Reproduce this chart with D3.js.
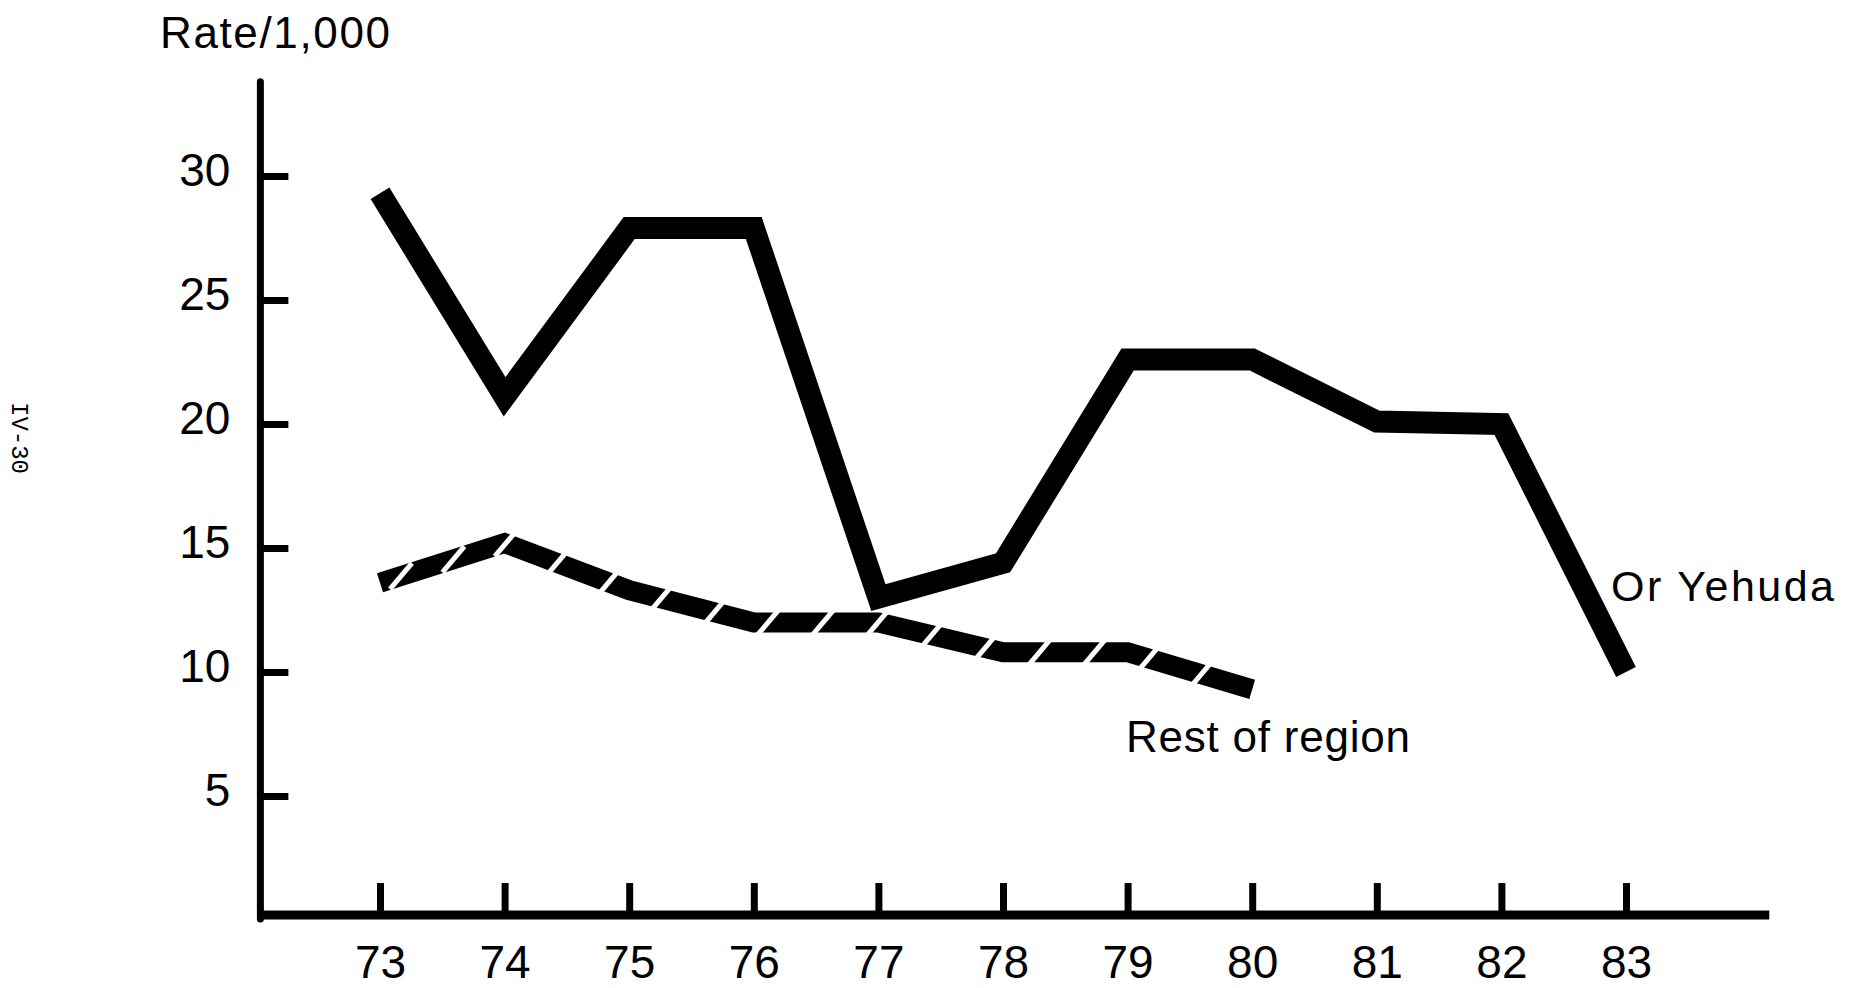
<!DOCTYPE html>
<html lang="en">
<head>
    <meta charset="UTF-8">
    <script src="https://d3js.org/d3.v7.min.js"></script>
    <style>
        body {margin: 0; background-color: #ffffff}
        svg {display: block}
        text {font-family: "Liberation Sans", Arial, sans-serif; fill: #000}
        .tick line {stroke: #000}
    </style>
</head>
<body>
<svg class="chart"></svg>
<script type="text/javascript">
    // data (rate per 1,000)
    let years = [73, 74, 75, 76, 77, 78, 79, 80, 81, 82, 83];
    let orYehuda = [29.3, 21.1, 27.9, 27.9, 13.0, 14.4, 22.6, 22.6, 20.1, 20.0, 10.0];
    let restYears = [73, 74, 75, 76, 77, 78, 79, 80];
    let restOfRegion = [13.6, 15.2, 13.3, 12.0, 12.0, 10.8, 10.8, 9.3];
    let yTicks = [5, 10, 15, 20, 25, 30];

    let width = 1855;
    let height = 988;

    var svg = d3.select(".chart")
        .attr("width", width)
        .attr("height", height);

    var x = d3.scaleLinear()
        .domain([73, 83])
        .range([380, 1626]);

    var y = d3.scaleLinear()
        .domain([5, 30])
        .range([796, 176]);

    // axis lines run a bit past the data, like in the original
    let xStart = 72.04, xEnd = 84.15, yTop = 33.8, yBase = 0.2;

    // y axis
    var yAxis = svg.append('g')
        .attr('transform', 'translate(' + x(xStart) + ',0)')
        .call(d3.axisLeft(y).tickValues(yTicks).tickSizeInner(-28).tickSizeOuter(0).tickPadding(30));
    yAxis.select('.domain').remove();
    yAxis.selectAll('.tick line').attr('stroke-width', 7);
    yAxis.selectAll('.tick text').style('font-size', '46px').attr('dy', '0.2em');

    svg.append('line')
        .attr('x1', x(xStart)).attr('x2', x(xStart))
        .attr('y1', y(yTop)).attr('y2', y(yBase) + 4)
        .attr('stroke', '#000').attr('stroke-width', 7).attr('stroke-linecap', 'round');

    // x axis
    var xAxis = svg.append('g')
        .attr('transform', 'translate(0,' + y(yBase) + ')')
        .call(d3.axisBottom(x).tickValues(years).tickFormat(d3.format('d'))
            .tickSizeInner(-32).tickSizeOuter(0).tickPadding(30));
    xAxis.select('.domain').remove();
    xAxis.selectAll('.tick line').attr('stroke-width', 7);
    xAxis.selectAll('.tick text').style('font-size', '46px');

    svg.append('line')
        .attr('x1', x(xStart)).attr('x2', x(xEnd))
        .attr('y1', y(yBase)).attr('y2', y(yBase))
        .attr('stroke', '#000').attr('stroke-width', 9);

    // axis title
    svg.append('text')
        .attr('x', 160).attr('y', 48)
        .attr('textLength', 230).attr('lengthAdjust', 'spacing')
        .style('font-size', '44px')
        .text('Rate/1,000');

    // page number on the margin
    svg.append('text')
        .attr('transform', 'translate(12,402) rotate(90)')
        .style('font-family', '"Liberation Mono", "DejaVu Sans Mono", monospace')
        .style('font-size', '24px')
        .text('IV-30');

    var line = d3.line()
        .x(function (d) { return x(d[0]); })
        .y(function (d) { return y(d[1]); });

    // rest of region: thick band cut by slanted white gaps
    var restPath = svg.append('path')
        .datum(d3.zip(restYears, restOfRegion))
        .attr('d', line)
        .attr('fill', 'none')
        .attr('stroke', '#000')
        .attr('stroke-width', 20)
        .attr('stroke-linejoin', 'miter');

    let node = restPath.node();
    let total = node.getTotalLength();
    var gaps = [];
    for (let s = 22; s < total - 8; s += 55) {
        gaps.push(node.getPointAtLength(s));
    }
    svg.append('g').selectAll('line')
        .data(gaps)
        .enter()
        .append('line')
        .attr('x1', function (p) { return p.x - 11; })
        .attr('y1', function (p) { return p.y + 13; })
        .attr('x2', function (p) { return p.x + 11; })
        .attr('y2', function (p) { return p.y - 13; })
        .attr('stroke', '#fff')
        .attr('stroke-width', 5);

    // Or Yehuda: heavy solid line
    svg.append('path')
        .datum(d3.zip(years, orYehuda))
        .attr('d', line)
        .attr('fill', 'none')
        .attr('stroke', '#000')
        .attr('stroke-width', 22)
        .attr('stroke-linejoin', 'miter');

    // series labels
    svg.append('text')
        .attr('x', 1611).attr('y', 601)
        .attr('textLength', 223).attr('lengthAdjust', 'spacing')
        .style('font-size', '43px')
        .text('Or Yehuda');

    svg.append('text')
        .attr('x', 1126).attr('y', 752)
        .attr('textLength', 284).attr('lengthAdjust', 'spacing')
        .style('font-size', '44px')
        .text('Rest of region');
</script>
</body>
</html>
